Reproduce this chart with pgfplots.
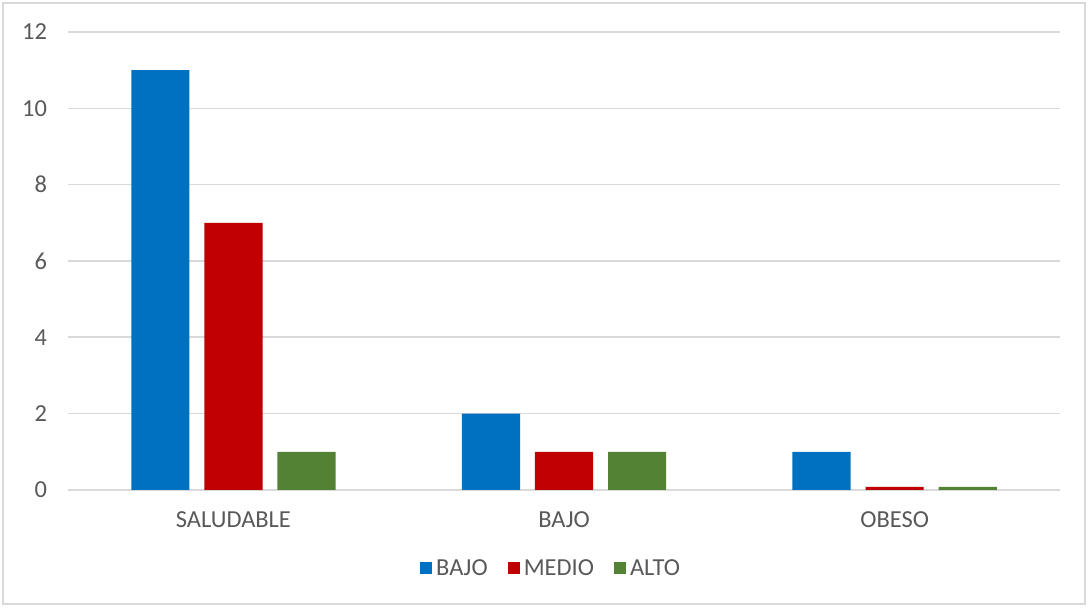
\documentclass[border=0pt]{standalone}
\usepackage{pgfplots}
\pgfplotsset{compat=1.18}
\usepackage{fontspec}
\setmainfont{Carlito}
\definecolor{cblue}{HTML}{0070C0}
\definecolor{cred}{HTML}{C00000}
\definecolor{cgreen}{HTML}{548235}
\definecolor{ctext}{HTML}{595959}
\definecolor{cgrid}{HTML}{D9D9D9}
\begin{document}
\begin{tikzpicture}
\useasboundingbox (-34pt,-58.5pt) rectangle (509pt,244.5pt);
\draw[cgrid, line width=0.8pt] (-32.5pt,-57pt) rectangle (507.5pt,243pt);
\begin{axis}[
  anchor=south west, at={(0,0)},
  scale only axis, width=495pt, height=228.5pt,
  xmin=-0.5, xmax=2.5, ymin=0, ymax=12,
  ytick={0,2,...,12},
  xtick={0,1,2}, xticklabels={SALUDABLE,BAJO,OBESO},
  major tick length=0pt,
  axis line style={draw=none},
  ymajorgrids, grid style={cgrid, line width=0.8pt},
  ybar, bar width=0.176,
  font=\fontsize{12.2}{14}\selectfont,
  tick label style={text=ctext, font=\fontsize{12.2}{14}\selectfont},
  /pgf/number format/assume math mode=true,
  yticklabel style={xshift=-7pt},
  xticklabel style={yshift=-7.5pt},
  legend columns=3,
  legend style={at={(0.488,-0.173)}, anchor=center, draw=none, fill=none,
    text=ctext, font=\fontsize{12.2}{14}\selectfont,
    /tikz/every even column/.append style={column sep=8pt}},
  legend image code/.code={\fill[#1] (0pt,-2.5pt) rectangle (6pt,3.5pt);},
]
\addplot[fill=cblue, draw=none, bar shift=-0.221] coordinates {(0,11) (1,2) (2,1)};
\addplot[fill=cred, draw=none, bar shift=0] coordinates {(0,7) (1,1) (2,0.08)};
\addplot[fill=cgreen, draw=none, bar shift=0.221] coordinates {(0,1) (1,1) (2,0.08)};
\legend{BAJO,MEDIO,ALTO}
\end{axis}
\end{tikzpicture}
\end{document}
